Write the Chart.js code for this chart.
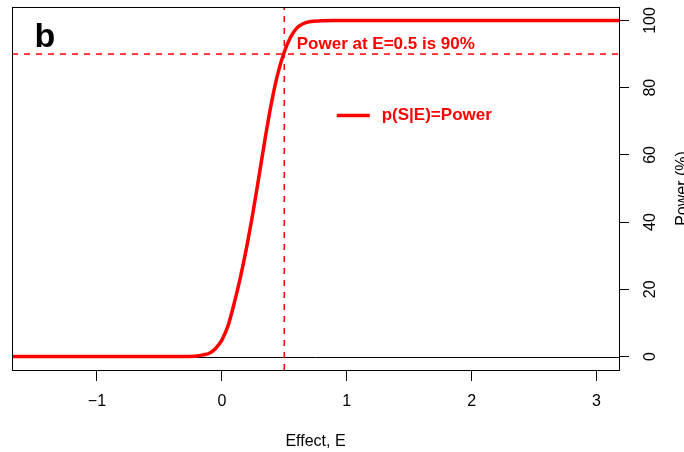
<!DOCTYPE html>
<html>
<head>
<meta charset="utf-8">
<script src="https://cdn.jsdelivr.net/npm/chart.js@4/dist/chart.umd.min.js"></script>
<style>
  body { margin: 0; background: #fff; }
  canvas { display: block; }
</style>
</head>
<body>
<canvas id="myChart" width="684" height="452"></canvas>
<script>
// values
var effect = [-1.68, -1.0, -0.5, -0.3, -0.2, -0.15, -0.1, -0.05, 0, 0.05, 0.1, 0.15, 0.2, 0.25, 0.3, 0.35, 0.4, 0.45, 0.5, 0.55, 0.6, 0.65, 0.7, 0.8, 0.9, 1.0, 2.0, 3.18];
var power = [0, 0, 0, 0.02, 0.15, 0.5, 1.0, 2.4, 4.9, 9.2, 16.0, 23.8, 32.8, 43.0, 54.2, 65.6, 76.0, 84.4, 90.6, 95.0, 97.7, 99.0, 99.6, 99.9, 100, 100, 100, 100];
var xTicks = [-1, 0, 1, 2, 3];
var yTicks = [0, 20, 40, 60, 80, 100];
var refEffect = 0.5;
var refPower = 90;
var seriesLabel = 'p(S|E)=Power';
var noteText = 'Power at E=0.5 is 90%';
var panelLetter = 'b';

var FONT = '"Liberation Sans", Arial, Helvetica, sans-serif';
var RED = '#ff0000';

var points = effect.map(function (e, i) { return {x: e, y: power[i]}; });

var extras = {
  id: 'extras',
  beforeDatasetsDraw: function (chart) {
    var ctx = chart.ctx, a = chart.chartArea;
    var xs = chart.scales.x, ys = chart.scales.y;
    ctx.save();
    ctx.beginPath();
    ctx.rect(a.left, a.top, a.right - a.left, a.bottom - a.top);
    ctx.clip();
    // zero line
    var y0 = Math.round(ys.getPixelForValue(0)) + 0.5;
    ctx.strokeStyle = '#000';
    ctx.lineWidth = 1;
    ctx.beginPath();
    ctx.moveTo(a.left, y0);
    ctx.lineTo(a.right, y0);
    ctx.stroke();
    // dashed reference lines
    ctx.strokeStyle = RED;
    ctx.lineWidth = 1.5;
    ctx.setLineDash([6, 6]);
    var yr = ys.getPixelForValue(refPower);
    ctx.beginPath();
    ctx.moveTo(a.left, yr);
    ctx.lineTo(a.right, yr);
    ctx.stroke();
    var xr = xs.getPixelForValue(refEffect);
    ctx.beginPath();
    ctx.moveTo(xr, a.bottom);
    ctx.lineTo(xr, a.top);
    ctx.stroke();
    ctx.restore();
  },
  afterDraw: function (chart) {
    var ctx = chart.ctx, a = chart.chartArea;
    var xs = chart.scales.x, ys = chart.scales.y;
    ctx.save();
    // box
    ctx.strokeStyle = '#000';
    ctx.lineWidth = 1;
    ctx.strokeRect(Math.round(a.left) + 0.5, Math.round(a.top) + 0.5,
      Math.round(a.right - a.left), Math.round(a.bottom - a.top));
    // panel letter
    ctx.fillStyle = '#000';
    ctx.font = 'bold 34px ' + FONT;
    ctx.textAlign = 'left';
    ctx.textBaseline = 'alphabetic';
    ctx.fillText(panelLetter, xs.getPixelForValue(-1.5), ys.getPixelForValue(92));
    // note
    ctx.fillStyle = RED;
    ctx.font = 'bold 17px ' + FONT;
    ctx.textBaseline = 'middle';
    ctx.fillText(noteText, xs.getPixelForValue(0.6), ys.getPixelForValue(93));
    // legend
    var lx = xs.getPixelForValue(0.92), ly = ys.getPixelForValue(71.7);
    ctx.strokeStyle = RED;
    ctx.lineWidth = 3.5;
    ctx.beginPath();
    ctx.moveTo(lx, ly);
    ctx.lineTo(lx + 33, ly);
    ctx.stroke();
    ctx.fillText(seriesLabel, lx + 45, ly);
    // right axis title (reads bottom to top)
    ctx.fillStyle = '#000';
    ctx.font = '16px ' + FONT;
    ctx.textAlign = 'center';
    ctx.textBaseline = 'alphabetic';
    ctx.translate(686.5, (a.top + a.bottom) / 2);
    ctx.rotate(-Math.PI / 2);
    ctx.fillText('Power (%)', 0, 0);
    ctx.restore();
  }
};

var ctx = document.getElementById('myChart').getContext('2d');
var myChart = new Chart(ctx, {
  type: 'scatter',
  data: {
    datasets: [{
      data: points,
      label: seriesLabel,
      showLine: true,
      borderColor: RED,
      backgroundColor: RED,
      borderWidth: 3.5,
      pointRadius: 0,
      cubicInterpolationMode: 'monotone'
    }]
  },
  options: {
    responsive: false,
    animation: false,
    devicePixelRatio: 1,
    layout: { padding: { left: 12, top: 7, right: 0, bottom: 0 } },
    plugins: { legend: { display: false }, tooltip: { enabled: false } },
    scales: {
      x: {
        type: 'linear',
        position: 'bottom',
        min: -1.68,
        max: 3.18,
        afterBuildTicks: function (scale) {
          scale.ticks = xTicks.map(function (v) { return {value: v}; });
        },
        afterFit: function (scale) {
          scale.height = 82;
          scale.paddingLeft = 0;
          scale.paddingRight = 0;
        },
        grid: { display: true, drawOnChartArea: false, drawTicks: true, tickLength: 11, color: '#000', lineWidth: 1 },
        border: { display: true, color: '#000' },
        ticks: {
          autoSkip: false,
          maxRotation: 0,
          padding: 11,
          color: '#000',
          font: { family: FONT, size: 16 },
          callback: function (v) { return String(v).replace('-', '\u2212'); }
        },
        title: {
          display: true,
          text: 'Effect, E',
          color: '#000',
          font: { family: FONT, size: 16 },
          padding: { top: 0, bottom: 1 }
        }
      },
      y: {
        type: 'linear',
        position: 'right',
        min: -4,
        max: 104,
        afterBuildTicks: function (scale) {
          scale.ticks = yTicks.map(function (v) { return {value: v}; });
        },
        afterFit: function (scale) {
          scale.width = 65;
          scale.paddingTop = 0;
          scale.paddingBottom = 0;
        },
        grid: { display: true, drawOnChartArea: false, drawTicks: true, tickLength: 10, color: '#000', lineWidth: 1 },
        border: { display: true, color: '#000' },
        ticks: {
          autoSkip: false,
          minRotation: 90,
          maxRotation: 90,
          crossAlign: 'center',
          padding: 8,
          color: '#000',
          font: { family: FONT, size: 16 }
        }
      }
    }
  },
  plugins: [extras]
});
</script>
</body>
</html>
